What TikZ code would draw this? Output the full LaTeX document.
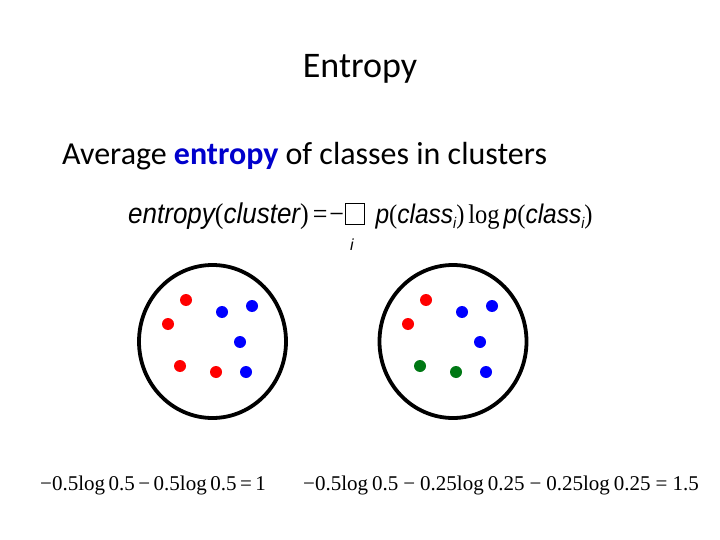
\documentclass[tikz,border=0pt]{standalone}
\usepackage{fontspec}
\setmainfont{Carlito}
\newfontfamily\arialfont{Liberation Sans}
\newfontfamily\timesfont{Liberation Serif}
\usetikzlibrary{positioning,shapes.geometric}
\definecolor{dotred}{RGB}{255,0,0}
\definecolor{dotblue}{RGB}{0,0,255}
\definecolor{dotgreen}{RGB}{0,120,20}
\definecolor{kwblue}{RGB}{0,0,204}
\newcommand{\av}[1]{{\arialfont\itshape #1}}
\newcommand{\tm}[1]{{\timesfont #1}}
\newcommand{\subi}{\raisebox{-4pt}{\fontsize{14}{14}\selectfont\arialfont\itshape i}}
\newcommand{\missingglyph}{{\setlength{\fboxsep}{0pt}\setlength{\fboxrule}{0.7pt}\fbox{\rule{0pt}{18pt}\hspace{18pt}}}}

\begin{document}
\begin{tikzpicture}[x=1pt, y=-1pt,
  dot/.style={circle, inner sep=0pt, minimum size=12pt},
  cluster/.style={ellipse, draw, line width=3.8pt, minimum width=147pt, minimum height=153pt, inner sep=0pt},
  eqtext/.style={anchor=base west, inner sep=0pt, font=\fontsize{21}{21}\selectfont\timesfont}]
\useasboundingbox (0,0) rectangle (720,540);
% Heading
\node[anchor=base, inner sep=0pt, font=\fontsize{36}{36}\selectfont] (title) at (360,78) {Entropy};
\node[anchor=base west, inner sep=0pt, font=\fontsize{32}{32}\selectfont] (subtitle) at (62,165)
  {Average \textcolor{kwblue}{\bfseries entropy} of classes in clusters};
% Formula
\node[anchor=base west, inner sep=0pt, font=\fontsize{26}{26}\selectfont] (formula) at (128,224)
  {\scalebox{1}[1.1]{\av{entropy}\tm{(}\av{cluster}\tm{)\kern4pt=\kern2pt−}\kern1pt\missingglyph\kern11pt
   {\fontsize{24.5}{24.5}\selectfont\av{p}\tm{(}\av{class}\subi\tm{)\kern4pt log\kern4pt}\av{p}\tm{(}\av{class}\subi\tm{)}}}};
\node[anchor=base, inner sep=0pt, font=\fontsize{16}{16}\selectfont\arialfont\itshape] (sumidx) at (352,250) {i};
% Clusters
\node[cluster] (clusA) at (212.5,341.5) {};
\node[cluster] (clusB) at (453,341.5) {};
% Points, left cluster
\node[dot, fill=dotred] (a1) at (186,300) {};
\node[dot, fill=dotred] (a2) at (168,324) {};
\node[dot, fill=dotblue] (a3) at (222,312) {};
\node[dot, fill=dotblue] (a4) at (252,306) {};
\node[dot, fill=dotblue] (a5) at (240,342) {};
\node[dot, fill=dotred] (a6) at (180,366) {};
\node[dot, fill=dotred] (a7) at (216,372) {};
\node[dot, fill=dotblue] (a8) at (246,372) {};
% Points, right cluster
\node[dot, fill=dotred] (b1) at (426,300) {};
\node[dot, fill=dotred] (b2) at (408,324) {};
\node[dot, fill=dotblue] (b3) at (462,312) {};
\node[dot, fill=dotblue] (b4) at (492,306) {};
\node[dot, fill=dotblue] (b5) at (480,342) {};
\node[dot, fill=dotgreen] (b6) at (420,366) {};
\node[dot, fill=dotgreen] (b7) at (456,372) {};
\node[dot, fill=dotblue] (b8) at (486,372) {};
% Results
\node[eqtext] (eqA) at (40,490) {−0.5log\,0.5\,−\,0.5log\,0.5\,=\,1};
\node[eqtext] (eqB) at (303,490) {−0.5log\kern4pt0.5\kern5pt−\kern5pt0.25log\kern4pt0.25\kern5pt−\kern5pt0.25log\kern4pt0.25\kern5pt=\kern5pt1.5};
\end{tikzpicture}
\end{document}
